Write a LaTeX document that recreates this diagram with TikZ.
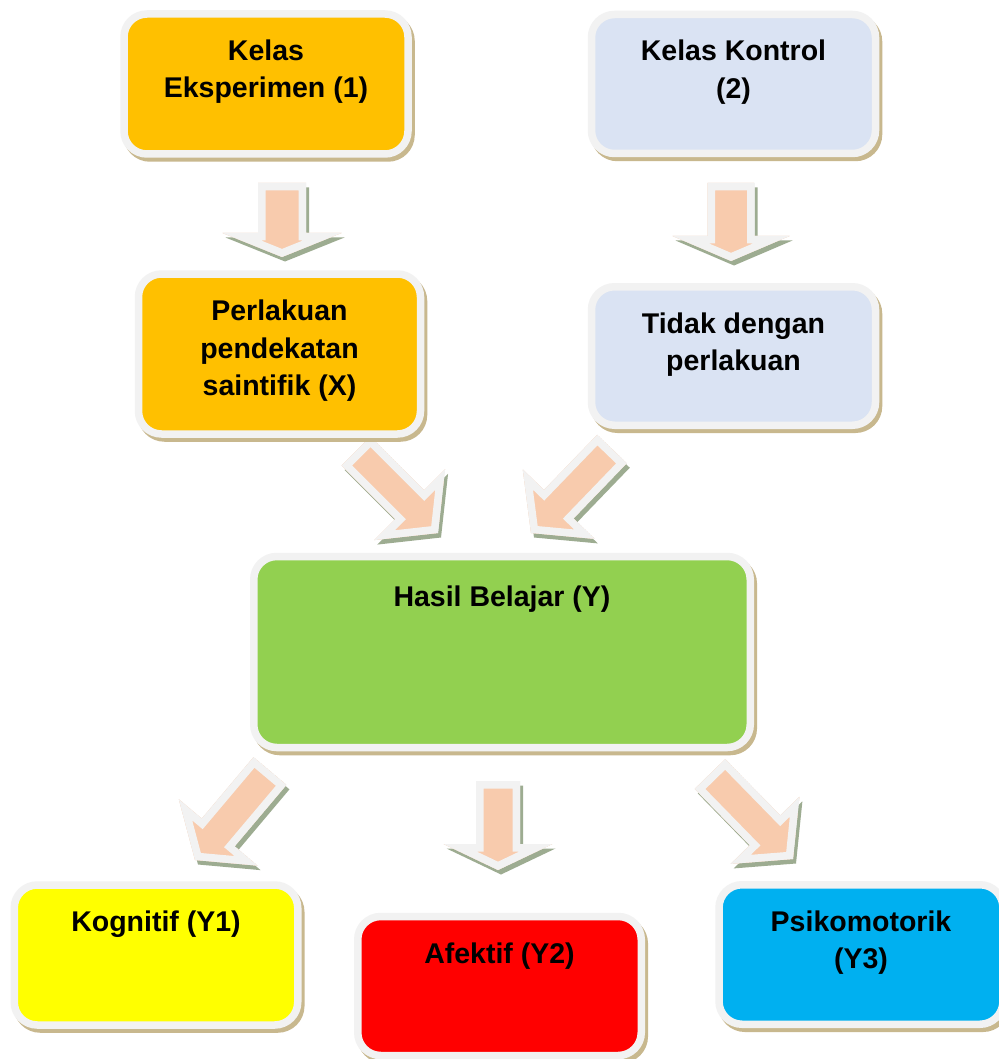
\documentclass[tikz,border=0pt]{standalone}
\usepackage{fontspec}
\setmainfont{Liberation Sans}
\usetikzlibrary{calc,shadows}
\definecolor{orangebox}{HTML}{FFC000}
\definecolor{bluebox}{HTML}{DAE3F3}
\definecolor{greenbox}{HTML}{92D050}
\definecolor{yellowbox}{HTML}{FFFF00}
\definecolor{redbox}{HTML}{FF0000}
\definecolor{cyanbox}{HTML}{00B0F0}
\definecolor{frameclr}{HTML}{F2F2F2}
\definecolor{boxshadowclr}{HTML}{C8B88E}
\definecolor{arrowpeach}{HTML}{F8CBAD}
\definecolor{arrowshadowclr}{HTML}{9DAC91}
\pgfdeclarelayer{background}
\pgfsetlayers{background,main}
\newcommand\firststrut{\rule{0pt}{25pt}}
% polygon of a block arrow: tail, tip, shaft half width, head half width, head length, shift
\newcommand\arrowpoly[6]{let \p1=($(#1)+(#6)$), \p2=($(#2)+(#6)$),
  \n1={atan2(scalar(\y2-\y1),scalar(\x2-\x1))},
  \n2={scalar(veclen(\x2-\x1,\y2-\y1))-#5}, \n3={#4-#3} in
  ($(\p1)+(\n1+90:#3pt)$) -- ++(\n1:\n2pt) -- ++(\n1+90:\n3pt) -- (\p2)
  -- ($(\p2)+(\n1+180:#5pt)+(\n1-90:#4pt)$) -- ++(\n1+90:\n3pt)
  -- ++(\n1+180:\n2pt) -- cycle}
\newcommand\blockarrow[5]{%
  \fill[arrowshadowclr] \arrowpoly{#1}{#2}{#3}{#4}{#5}{3pt,-4.5pt};
  \fill[frameclr] \arrowpoly{#1}{#2}{#3}{#4}{#5}{0pt,0pt};
  \begin{scope}
    \clip \arrowpoly{#1}{#2}{#3}{#4}{#5}{0pt,0pt};
    \fill[arrowpeach, draw=frameclr, line width=15pt, line join=miter]
      \arrowpoly{#1}{#2}{#3}{#4}{#5}{0pt,0pt};
  \end{scope}}
\tikzset{
  box/.style={rectangle, rounded corners=23pt, draw=frameclr, line width=7.5pt,
    outer sep=0pt, inner sep=0pt,
    drop shadow={shadow xshift=3pt, shadow yshift=-4pt, fill=boxshadowclr,
      draw=boxshadowclr, line width=7.5pt, opacity=1}},
  txt/.style={anchor=north, inner sep=0pt, outer sep=0pt, align=center,
    font=\fontsize{28.5}{37.5}\selectfont\bfseries}
}
\begin{document}
\begin{tikzpicture}[x=1pt,y=-1pt]
\useasboundingbox (0,0) rectangle (998,1059);
% boxes
\node[box, fill=orangebox, minimum width=284, minimum height=140] (b1) at (266,84) {};
\node[box, fill=bluebox, minimum width=284, minimum height=139] (b2) at (733.5,84) {};
\node[box, fill=orangebox, minimum width=282, minimum height=160] (b3) at (279.5,354) {};
\node[box, fill=bluebox, minimum width=284, minimum height=138.5] (b4) at (733.5,356) {};
\node[box, fill=greenbox, minimum width=496.5, minimum height=191] (b5) at (502,652) {};
\node[box, fill=yellowbox, minimum width=283.5, minimum height=140] (b6) at (156,955) {};
\node[box, fill=redbox, minimum width=283.5, minimum height=139] (b7) at (499.5,986) {};
\node[box, fill=cyanbox, minimum width=284, minimum height=139.5] (b8) at (861,954.5) {};
% texts
\node[txt] (t1) at ($(b1.north)+(0,21.5)$) {\firststrut Kelas\\Eksperimen (1)};
\node[txt] (t2) at ($(b2.north)+(0,21.5)$) {\firststrut Kelas Kontrol\\(2)};
\node[txt] (t3) at ($(b3.north)+(0,21.5)$) {\firststrut Perlakuan\\pendekatan\\saintifik (X)};
\node[txt] (t4) at ($(b4.north)+(0,21.5)$) {\firststrut Tidak dengan\\perlakuan};
\node[txt] (t5) at ($(b5.north)+(0,25)$) {\firststrut Hasil Belajar (Y)};
\node[txt] (t6) at ($(b6.north)+(0,21.5)$) {\firststrut Kognitif (Y1)};
\node[txt] (t7) at ($(b7.north)+(0,21.5)$) {\firststrut Afektif (Y2)};
\node[txt] (t8) at ($(b8.north)+(0,21.5)$) {\firststrut Psikomotorik\\(Y3)};
% arrow end points
\coordinate (a1s) at (282,183); \coordinate (a1e) at (282,257);
\coordinate (a2s) at (731,183); \coordinate (a2e) at (731,261);
\coordinate (a3s) at (356,451); \coordinate (a3e) at (438,533);
\coordinate (a4s) at (612,449); \coordinate (a4e) at (531,533);
\coordinate (a5s) at (270,771); \coordinate (a5e) at (195,860);
\coordinate (a6s) at (498,781); \coordinate (a6e) at (498,870);
\coordinate (a7s) at (710,774); \coordinate (a7e) at (793,859);
\begin{pgfonlayer}{background}
\fill[white] (0,0) rectangle (998,1059);
\blockarrow{a1s}{a1e}{24}{59.5}{24}
\blockarrow{a2s}{a2e}{23.5}{58.5}{25}
\blockarrow{a3s}{a3e}{20.5}{50}{40}
\blockarrow{a4s}{a4e}{20.5}{50}{40}
\blockarrow{a5s}{a5e}{21.5}{51.5}{36}
\blockarrow{a6s}{a6e}{22}{54.5}{26}
\blockarrow{a7s}{a7e}{21.3}{48}{40}
\end{pgfonlayer}
\end{tikzpicture}
\end{document}
